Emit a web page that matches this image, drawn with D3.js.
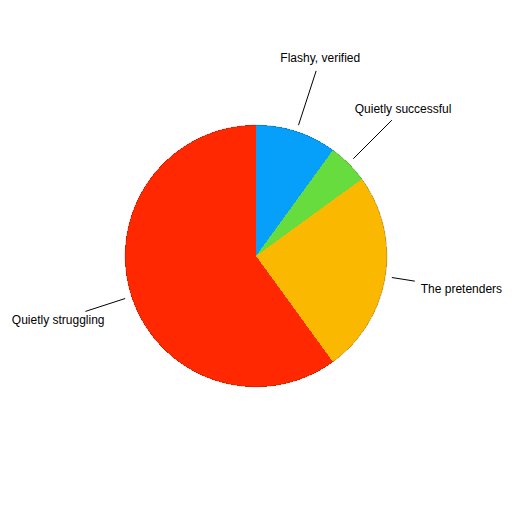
<!DOCTYPE html>
<html><head><meta charset="utf-8">
<script src="https://cdn.jsdelivr.net/npm/d3@7"></script>
<style>body{margin:0;background:#fff}svg{display:block}</style>
</head><body>
<script>
const categories = ["Flashy, verified", "Quietly successful", "The pretenders", "Quietly struggling"];
const values = [10, 5, 25, 60];
const colors = ["#06a0fb", "#66dc3e", "#fbb800", "#ff2800"];

const W = 512, H = 512, cx = 256, cy = 256, R = 131, labelR = 208;
const svg = d3.select("body").append("svg").attr("width", W).attr("height", H);
const g = svg.append("g").attr("transform", `translate(${cx},${cy})`);

const pie = d3.pie().sort(null).value(d => d)(values);
const arc = d3.arc().innerRadius(0).outerRadius(R);

g.selectAll("path.slice").data(pie).join("path")
  .attr("class", "slice")
  .attr("d", arc)
  .attr("fill", (d, i) => colors[i])
  .attr("shape-rendering", "crispEdges");

g.append("circle").attr("r", R).attr("fill", "none").attr("stroke", "#000").attr("stroke-width", 0.4).attr("stroke-opacity", 0.5);

const fontSize = 12;
pie.forEach((d, i) => {
  const a = (d.startAngle + d.endAngle) / 2;
  const dx = Math.sin(a), dy = -Math.cos(a);
  const lx = dx * labelR, ly = dy * labelR;
  const t = g.append("text")
    .attr("x", lx).attr("y", ly)
    .attr("text-anchor", "middle")
    .attr("dominant-baseline", "central")
    .attr("font-family", "Liberation Sans, Arial, sans-serif")
    .attr("font-size", fontSize)
    .attr("fill", "#000")
    .text(categories[i]);
  const bw = t.node().getComputedTextLength() / 2, bh = 7;
  // entry distance of the ray into label box
  const tx = Math.abs(dx) > 1e-6 ? (Math.abs(lx) - bw) / Math.abs(dx) : 0;
  const ty = Math.abs(dy) > 1e-6 ? (Math.abs(ly) - bh) / Math.abs(dy) : 0;
  const tEnd = Math.max(tx, ty) - 6;
  const r0 = R * 1.05;
  g.append("line")
    .attr("x1", dx * r0).attr("y1", dy * r0)
    .attr("x2", dx * tEnd).attr("y2", dy * tEnd)
    .attr("stroke", "#000").attr("stroke-width", 1);
});
</script>
</body></html>
